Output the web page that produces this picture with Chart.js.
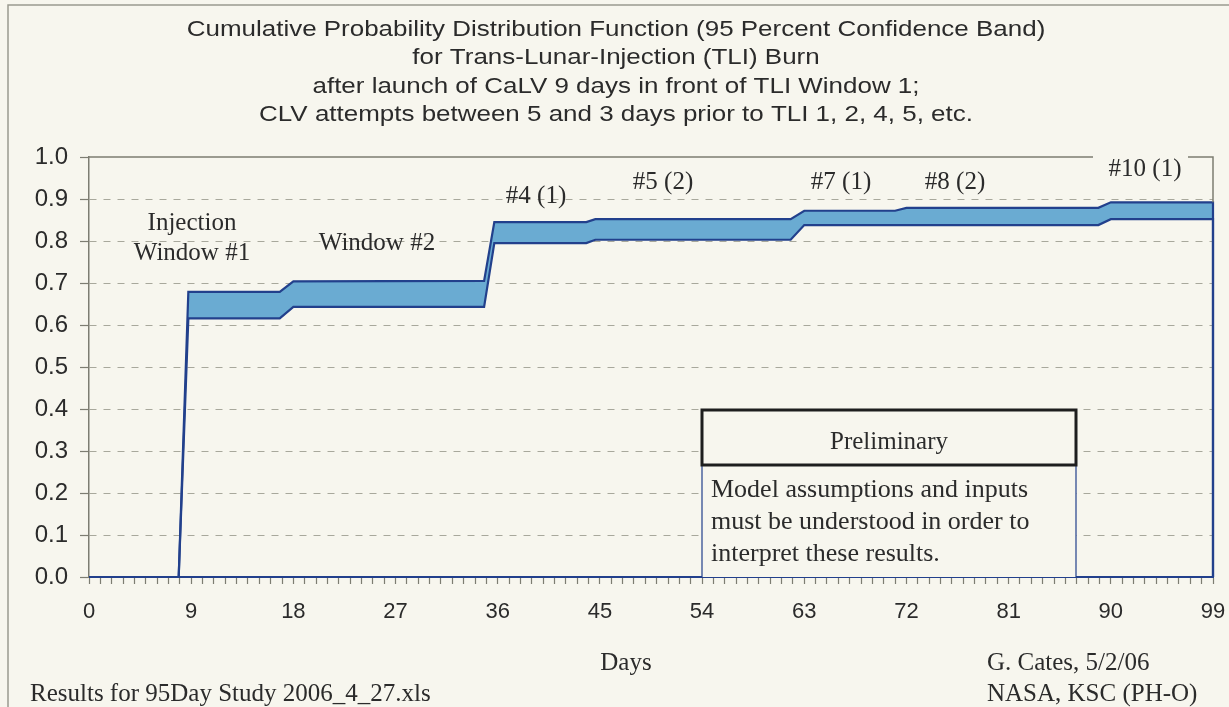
<!DOCTYPE html>
<html>
<head>
<meta charset="utf-8">
<script src="https://cdn.jsdelivr.net/npm/chart.js@4.4.1/dist/chart.umd.min.js"></script>
<style>
  html, body { margin: 0; padding: 0; background: #f7f6ee; }
  #myChart { display: block; }
</style>
</head>
<body>
<canvas id="myChart" width="1229" height="707"></canvas>
<script>
// Jours (axe x) et bornes de la bande de confiance à 95 %
const days      = [0, 7.9, 8.75, 16.8, 18.0, 34.8, 35.7, 43.8, 44.6, 61.8, 63.0, 71.0, 72.0, 88.9, 90.0, 99, 99];
const upperBand = [0, 0, 0.679, 0.679, 0.704, 0.705, 0.845, 0.845, 0.852, 0.852, 0.872, 0.872, 0.879, 0.879, 0.892, 0.892, 0];
const lowerBand = [0, 0, 0.616, 0.616, 0.643, 0.643, 0.795, 0.795, 0.803, 0.803, 0.838, 0.838, 0.838, 0.838, 0.852, 0.852, 0];

const xTickLabels = [0, 9, 18, 27, 36, 45, 54, 63, 72, 81, 90, 99];
const yTickLabels = ['0.0', '0.1', '0.2', '0.3', '0.4', '0.5', '0.6', '0.7', '0.8', '0.9', '1.0'];

const titleLines = [
  'Cumulative Probability Distribution Function (95 Percent Confidence Band)',
  'for Trans-Lunar-Injection (TLI) Burn',
  'after launch of CaLV 9 days in front of TLI Window 1;',
  'CLV attempts between 5 and 3 days prior to TLI 1, 2, 4, 5, etc.'
];

const BG = '#f7f6ee';
const TEXT = '#2b2b2b';
const LINE_BLUE = '#22408c';
const BAND_FILL = '#6aabd2';
const FRAME = '#7d7d72';
const SERIF = '25px "Liberation Serif"';

const toPoints = (ys) => days.map((d, i) => ({ x: d, y: ys[i] }));

// texte élargi horizontalement (le titre d'origine est plus large que l'Arial normal)
function wideText(ctx, text, x, y, sx) {
  ctx.save();
  ctx.translate(x, y);
  ctx.scale(sx, 1);
  ctx.fillText(text, 0, 0);
  ctx.restore();
}

// Plugin pour le fond, les textes et le cadre
const decorPlugin = {
  id: 'decor',
  beforeDraw(chart) {
    const ctx = chart.ctx;
    ctx.save();
    ctx.fillStyle = BG;
    ctx.fillRect(0, 0, chart.width, chart.height);
    ctx.strokeStyle = '#9a9a90';
    ctx.lineWidth = 1.5;
    ctx.strokeRect(8, 5, chart.width + 10, chart.height + 10);
    ctx.restore();
  },
  afterDatasetsDraw(chart) {
    const ctx = chart.ctx;
    const a = chart.chartArea;
    ctx.save();

    // cadre haut (interrompu par l'étiquette #10) et bord droit
    ctx.strokeStyle = FRAME;
    ctx.lineWidth = 1.5;
    ctx.beginPath();
    ctx.moveTo(a.left, a.top);
    ctx.lineTo(1093, a.top);
    ctx.moveTo(1188, a.top);
    ctx.lineTo(a.right, a.top);
    ctx.lineTo(a.right, chart.scales.y.getPixelForValue(upperBand[upperBand.length - 2]));
    ctx.stroke();

    // boîte "Preliminary"
    const bx = 702, bw = 374, top = 410, mid = 465, bottom = a.bottom;
    ctx.fillStyle = BG;
    ctx.fillRect(bx, top, bw, bottom - top);
    ctx.strokeStyle = LINE_BLUE;
    ctx.lineWidth = 1.2;
    ctx.beginPath();
    ctx.moveTo(bx, mid); ctx.lineTo(bx, bottom);
    ctx.moveTo(bx + bw, mid); ctx.lineTo(bx + bw, bottom);
    ctx.stroke();
    ctx.strokeStyle = '#1e1e1e';
    ctx.lineWidth = 3;
    ctx.strokeRect(bx, top, bw, mid - top);

    ctx.fillStyle = TEXT;
    ctx.textBaseline = 'middle';
    ctx.font = SERIF;
    ctx.textAlign = 'center';
    ctx.fillText('Preliminary', 889, 442);
    ctx.textAlign = 'left';
    ctx.font = '26px "Liberation Serif"';
    ctx.fillText('Model assumptions and inputs', 711, 490);
    ctx.fillText('must be understood in order to', 711, 522);
    ctx.fillText('interpret these results.', 711, 554);

    // étiquettes des fenêtres
    ctx.textAlign = 'center';
    ctx.font = SERIF;
    ctx.fillText('Injection', 192, 223);
    ctx.fillText('Window #1', 192, 253);
    ctx.fillText('Window #2', 377, 243);
    ctx.fillText('#4 (1)', 536, 196);
    ctx.fillText('#5 (2)', 663, 182);
    ctx.fillText('#7 (1)', 841, 182);
    ctx.fillText('#8 (2)', 955, 182);
    ctx.fillText('#10 (1)', 1145, 169);

    // titre
    ctx.font = '22px "Liberation Sans"';
    const titleY = [30, 58, 87, 115];
    titleLines.forEach((t, i) => wideText(ctx, t, 616, titleY[i], 1.18));

    // textes du bas
    ctx.font = SERIF;
    ctx.fillText('Days', 626, 663);
    ctx.textAlign = 'left';
    ctx.fillText('G. Cates, 5/2/06', 987, 663);
    ctx.fillText('NASA, KSC (PH-O)', 987, 694);
    ctx.fillText('Results for 95Day Study 2006_4_27.xls', 30, 694);

    ctx.restore();
  }
};

const ctx = document.getElementById('myChart').getContext('2d');
new Chart(ctx, {
  type: 'line',
  data: {
    datasets: [
      {
        label: 'Lower',
        data: toPoints(lowerBand),
        borderColor: LINE_BLUE,
        borderWidth: 2.2,
        pointRadius: 0,
        tension: 0,
        fill: false,
        clip: 4
      },
      {
        label: 'Upper',
        data: toPoints(upperBand),
        borderColor: LINE_BLUE,
        borderWidth: 2.2,
        backgroundColor: BAND_FILL,
        pointRadius: 0,
        tension: 0,
        fill: '-1',
        clip: 4
      }
    ]
  },
  options: {
    responsive: false,
    animation: false,
    layout: { padding: { left: 0, right: 16, top: 157, bottom: 80 } },
    plugins: {
      legend: { display: false },
      title: { display: false },
      tooltip: { enabled: false }
    },
    scales: {
      x: {
        type: 'linear',
        min: 0,
        max: 99,
        afterFit: (scale) => {
          scale.height = 50;
          scale.paddingLeft = 0;
          scale.paddingRight = 0;
        },
        ticks: {
          stepSize: 1,
          autoSkip: false,
          maxRotation: 0,
          padding: 15,
          color: TEXT,
          font: { family: '"Liberation Sans"', size: 22 },
          callback: (v) => xTickLabels.includes(v) ? String(v) : ''
        },
        grid: {
          drawOnChartArea: false,
          tickLength: 7,
          tickColor: FRAME,
          tickWidth: 1.2
        },
        border: { color: LINE_BLUE, width: 2 }
      },
      y: {
        min: 0,
        max: 1,
        afterFit: (scale) => { scale.width = 89; },
        ticks: {
          stepSize: 0.1,
          padding: 12,
          color: TEXT,
          font: { family: '"Liberation Sans"', size: 24 },
          callback: (v, i) => yTickLabels[i]
        },
        grid: {
          color: (c) => (c.index === 0 || c.index === 10) ? 'rgba(0,0,0,0)' : '#a8a89c',
          lineWidth: 1,
          tickLength: 9,
          tickColor: FRAME,
          tickWidth: 1.2,
          tickBorderDash: []
        },
        border: { color: FRAME, width: 1.5, dash: [7, 7] }
      }
    }
  },
  plugins: [decorPlugin]
});
</script>
</body>
</html>
